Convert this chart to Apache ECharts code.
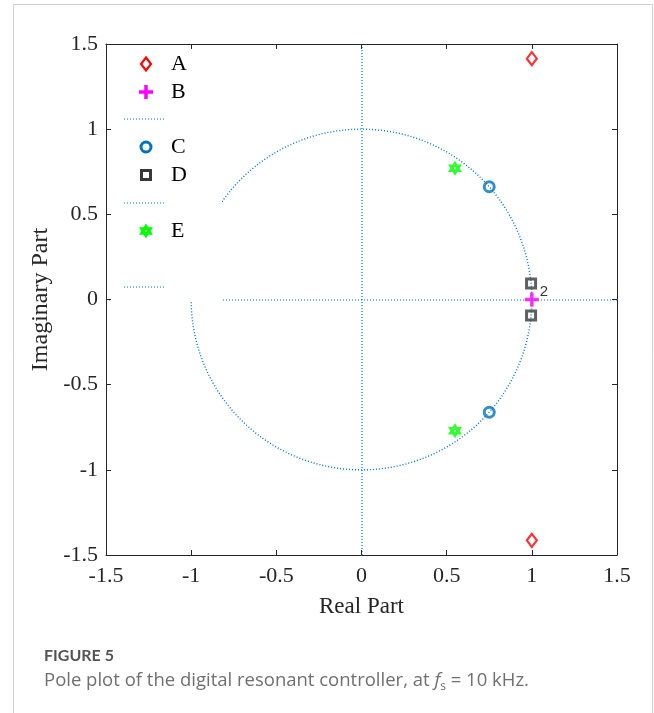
<!DOCTYPE html>
<html>
<head>
<meta charset="utf-8">
<script src="https://cdn.jsdelivr.net/npm/echarts@6/dist/echarts.min.js"></script>
<style>
  html, body { margin: 0; padding: 0; background: #fff; }
  #chart { width: 654px; height: 713px; }
</style>
</head>
<body>
<div id="chart"></div>
<script>
// Pole locations in the z-plane (real, imaginary)
const polesA = [[1, 1.414], [1, -1.414]];
const polesB = [[1, 0]];            // double pole at z = 1
const multiplicityB = '2';
const polesC = [[0.75, 0.662], [0.75, -0.662]];
const polesD = [[0.9955, 0.094], [0.9955, -0.094]];
const polesE = [[0.549, 0.770], [0.549, -0.770]];

// Unit circle (centre, radius) and the real / imaginary axis lines (x1, y1, x2, y2)
const unitCircle = [[0, 0, 1]];
const axisLines = [[-1.5, 0, 1.5, 0], [0, -1.5, 0, 1.5]];

// Axis range and tick step
const axisMin = -1.5, axisMax = 1.5, axisStep = 0.5;

const legendNames = ['A', 'B', '', 'C', 'D', '', 'E', '', ''];

const BLUE = '#0072BD';
const AXIS_COLOR = '#262626';
const SERIF = '"Liberation Serif", "Times New Roman", serif';
const DOTS = [1, 2];

const plusPath = 'path://M5.25,0H8.75V5.25H14V8.75H8.75V14H5.25V8.75H0V5.25H5.25Z';
const hexagramPath = 'path://M10,0L12.887,5L18.66,5L15.774,10L18.66,15L12.887,15L10,20L7.113,15L1.34,15L4.226,10L1.34,5L7.113,5Z' +
  'M10,8.6L8.8,9.3L8.8,10.7L10,11.4L11.2,10.7L11.2,9.3Z';

const chart = echarts.init(document.getElementById('chart'));

function axisCommon(extra) {
  return Object.assign({
    type: 'value', min: axisMin, max: axisMax, interval: axisStep, z: 60,
    axisLine: { show: true, onZero: false, lineStyle: { color: AXIS_COLOR, width: 1 } },
    axisTick: { show: true, inside: true, length: 5, lineStyle: { color: AXIS_COLOR, width: 1 } },
    splitLine: { show: false }
  }, extra);
}

const labelStyle = { color: AXIS_COLOR, fontFamily: SERIF, fontSize: 22 };

// Legend drawn as graphic elements: marker column at x=146, text at x=171
const LX = 146, TX = 171;
const rowY = [64, 92, 119, 147, 175, 203, 231, 259, 287];
const legendEls = [
  { type: 'rect', shape: { x: 112, y: 50, width: 110, height: 251 }, style: { fill: '#fff' }, z: 50 }
];
function legendText(i, t) {
  legendEls.push({ type: 'text', x: TX, y: rowY[i], z: 52,
    style: { text: t, fill: '#000', font: '22px ' + SERIF, verticalAlign: 'middle', align: 'left' } });
}
function legendDots(i) {
  legendEls.push({ type: 'line', z: 52, shape: { x1: 124, y1: rowY[i], x2: 165, y2: rowY[i] },
    style: { stroke: BLUE, lineWidth: 1.2, lineDash: DOTS } });
}
// A: diamond
legendEls.push({ type: 'polygon', z: 52, shape: { points: [[LX, rowY[0] - 6.5], [LX + 5, rowY[0]], [LX, rowY[0] + 6.5], [LX - 5, rowY[0]]] },
  style: { fill: 'none', stroke: '#FF0000', lineWidth: 2.2 } });
// B: plus
legendEls.push({ type: 'rect', z: 52, shape: { x: LX - 7, y: rowY[1] - 1.75, width: 14, height: 3.5 }, style: { fill: '#FF00FF' } });
legendEls.push({ type: 'rect', z: 52, shape: { x: LX - 1.75, y: rowY[1] - 7, width: 3.5, height: 14 }, style: { fill: '#FF00FF' } });
legendDots(2);
// C: circle
legendEls.push({ type: 'circle', z: 52, shape: { cx: LX, cy: rowY[3], r: 5 }, style: { fill: 'none', stroke: BLUE, lineWidth: 3 } });
// D: square
legendEls.push({ type: 'rect', z: 52, shape: { x: LX - 4.5, y: rowY[4] - 4.5, width: 9, height: 9 }, style: { fill: 'none', stroke: '#383838', lineWidth: 3 } });
legendDots(5);
// E: hexagram (six-pointed star) with a small hollow centre
(function () {
  const cy = rowY[6], R = 7.5, halfW = 7;
  const star = [];
  for (let k = 0; k < 12; k++) {
    const ang = Math.PI / 2 - k * Math.PI / 6;
    const r = (k % 2 === 0) ? 1 : 0.5774;
    star.push([LX + r * halfW / 0.866 * Math.cos(ang), cy - r * R * Math.sin(ang)]);
  }
  legendEls.push({ type: 'polygon', z: 52, shape: { points: star }, style: { fill: '#00FF00' } });
  legendEls.push({ type: 'circle', z: 53, shape: { cx: LX, cy: cy, r: 1 }, style: { fill: '#c8ffc8' } });
})();
legendDots(8);
legendNames.forEach((n, i) => { if (n) legendText(i, n); });

// Caption below the figure
const captionFont = '"Open Sans", "Noto Sans", sans-serif';
const captionEls = [
  { type: 'rect', z: 1, shape: { x: 13.5, y: 4.5, width: 639, height: 720 }, style: { fill: 'none', stroke: '#cfcfcf', lineWidth: 1 } },
  { type: 'text', x: 44, y: 656, z: 5,
    style: { text: 'FIGURE 5', fill: '#555555', font: 'bold 16px Lato, "Noto Sans", sans-serif', verticalAlign: 'middle' } },
  { type: 'text', x: 44, y: 681, z: 5,
    style: {
      text: '{a|Pole plot of the digital resonant controller, at }{i|f}{s|s}{a| = 10 kHz.}',
      verticalAlign: 'middle',
      rich: {
        a: { fill: '#707070', font: '18.5px ' + captionFont, lineHeight: 24, verticalAlign: 'middle' },
        i: { fill: '#707070', font: 'italic 18.5px ' + captionFont, lineHeight: 24, verticalAlign: 'middle' },
        s: { fill: '#707070', font: '12px ' + captionFont, lineHeight: 24, verticalAlign: 'bottom' }
      }
    } }
];

function markerSeries(name, data, symbol, size, style, extra) {
  return Object.assign({
    name: name, type: 'scatter', data: data, symbol: symbol, symbolSize: size, z: 5,
    itemStyle: style, silent: true, animation: false
  }, extra || {});
}

const option = {
  animation: false,
  grid: { left: 106, top: 44, width: 511, height: 511, containLabel: false },
  xAxis: [
    axisCommon({ position: 'bottom',
      axisLabel: Object.assign({ margin: 10 }, labelStyle),
      name: 'Real Part', nameLocation: 'middle', nameGap: 40,
      nameTextStyle: { color: AXIS_COLOR, fontFamily: SERIF, fontSize: 23 } }),
    axisCommon({ position: 'top', axisLabel: { show: false } })
  ],
  yAxis: [
    axisCommon({ position: 'left',
      axisLabel: Object.assign({ margin: 8 }, labelStyle),
      name: 'Imaginary Part', nameLocation: 'middle', nameGap: 48,
      nameTextStyle: { color: AXIS_COLOR, fontFamily: SERIF, fontSize: 24 } }),
    axisCommon({ position: 'right', axisLabel: { show: false } })
  ],
  graphic: { elements: captionEls.concat(legendEls) },
  series: [
    {
      // unit circle: both axes share the same scale, so a circle of radius 1 in data units
      type: 'custom', data: unitCircle, z: 2, silent: true, animation: false,
      renderItem: function (params, api) {
        const c = api.coord([api.value(0), api.value(1)]);
        const s = api.size([api.value(2), api.value(2)]);
        return { type: 'circle', shape: { cx: c[0], cy: c[1], r: (s[0] + s[1]) / 2 },
          style: { fill: 'none', stroke: BLUE, lineWidth: 1.4, lineDash: DOTS } };
      }
    },
    {
      // real and imaginary axis lines (drawn between pixel columns/rows for soft dots)
      type: 'custom', data: axisLines, z: 2, silent: true, animation: false,
      renderItem: function (params, api) {
        const p1 = api.coord([api.value(0), api.value(1)]);
        const p2 = api.coord([api.value(2), api.value(3)]);
        const vertical = Math.abs(p1[0] - p2[0]) < 1;
        return { type: 'line', x: vertical ? 0.5 : 0, y: vertical ? 0 : 0.5,
          shape: { x1: p1[0], y1: p1[1], x2: p2[0], y2: p2[1] },
          style: { stroke: BLUE, lineWidth: 1.2, lineDash: DOTS } };
      }
    },
    markerSeries('A', polesA, 'diamond', [10, 13], { color: 'rgba(0,0,0,0)', borderColor: '#FF0000', borderWidth: 2.2 }),
    markerSeries('B', polesB, plusPath, 14, { color: '#FF00FF' }, {
      label: { show: true, formatter: multiplicityB, position: 'inside', offset: [12, -8],
        color: '#000', fontFamily: '"Liberation Sans", Arial, sans-serif', fontSize: 15 }
    }),
    markerSeries('C', polesC, 'circle', 10, { color: 'rgba(0,0,0,0)', borderColor: BLUE, borderWidth: 3 }),
    markerSeries('D', polesD, 'rect', 9, { color: 'rgba(0,0,0,0)', borderColor: '#383838', borderWidth: 3 }),
    markerSeries('E', polesE, hexagramPath, [14, 15], { color: '#00FF00' })
  ]
};

chart.setOption(option);
</script>
</body>
</html>
